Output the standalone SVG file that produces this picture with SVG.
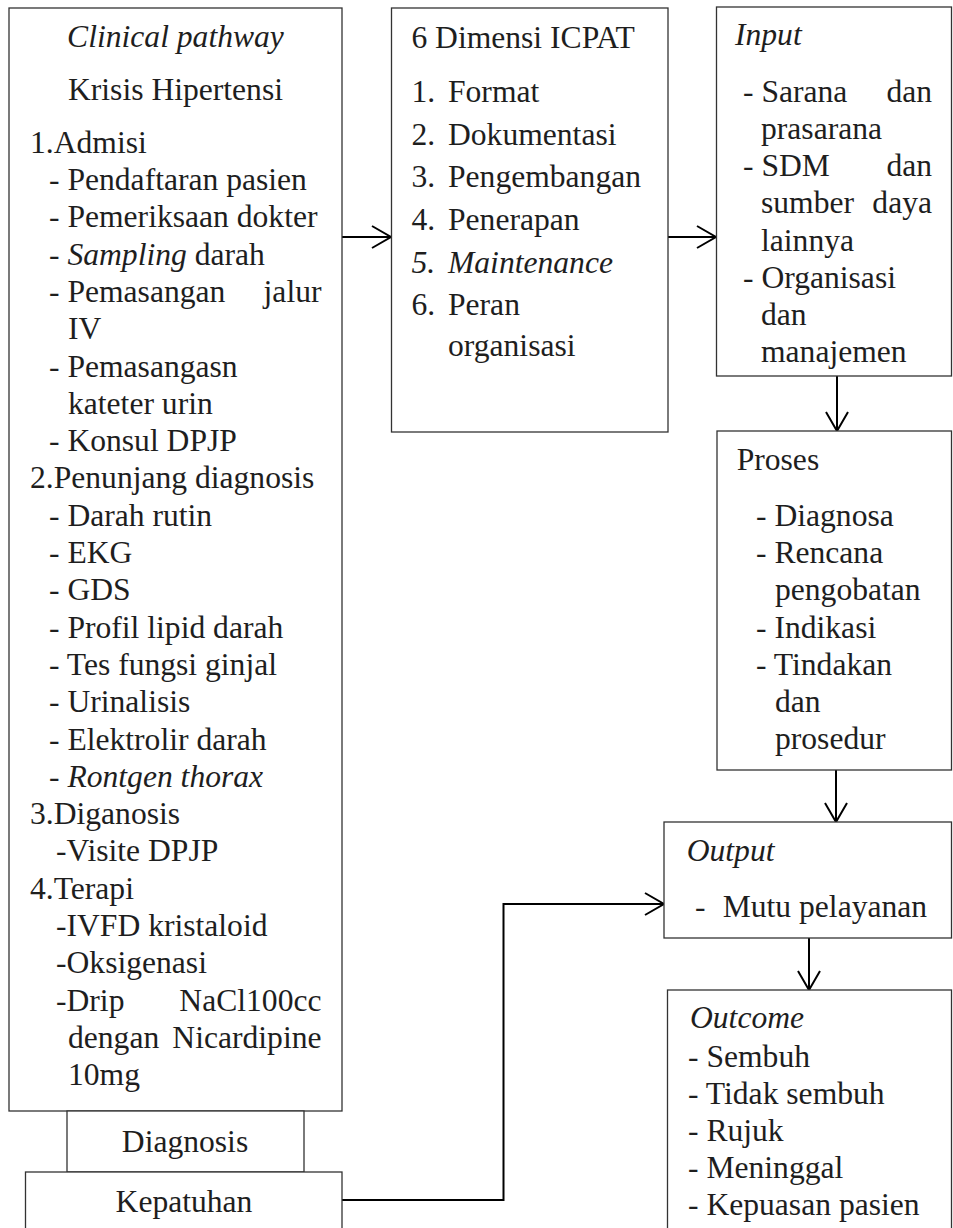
<svg xmlns="http://www.w3.org/2000/svg" width="953" height="1228" viewBox="0 0 953 1228">
<style>
.t { font-size: 31.6px; fill: #1e1e1e; }
.i { font-style: italic; }
.m { text-anchor: middle; }
.e { text-anchor: end; }
.box { fill: #ffffff; stroke: #333333; stroke-width: 1.3; }
.conn { fill: none; stroke: #000000; stroke-width: 2; }
</style>
<defs>
<marker id="arr" markerUnits="userSpaceOnUse" markerWidth="24" markerHeight="26" viewBox="0 0 24 26" refX="22" refY="13" orient="auto">
<path d="M3,2 L22,13 L3,24" fill="none" stroke="#000" stroke-width="2"/>
</marker>
</defs>
<rect width="953" height="1228" fill="#ffffff"/>

<g id="connectors">
<line class="conn" x1="342" y1="237" x2="391" y2="237" marker-end="url(#arr)"/>
<line class="conn" x1="668" y1="237" x2="716" y2="237" marker-end="url(#arr)"/>
<line class="conn" x1="837" y1="376" x2="837" y2="431" marker-end="url(#arr)"/>
<line class="conn" x1="836" y1="770" x2="836" y2="822" marker-end="url(#arr)"/>
<line class="conn" x1="809" y1="938" x2="809" y2="990" marker-end="url(#arr)"/>
<polyline class="conn" points="342,1200 503.5,1200 503.5,904 664,904" marker-end="url(#arr)"/>
</g>

<g id="clinical-pathway">
<rect class="box" x="9" y="8" width="333" height="1103"/>
<text font-family="'Liberation Serif', serif" class="t i m" x="175.5" y="47">Clinical pathway</text>
<text font-family="'Liberation Serif', serif" class="t m" x="175.5" y="100">Krisis Hipertensi</text>
<text font-family="'Liberation Serif', serif" class="t" x="30" y="152.7">1.Admisi</text>
<text font-family="'Liberation Serif', serif" class="t" x="49" y="190">- Pendaftaran pasien</text>
<text font-family="'Liberation Serif', serif" class="t" x="49" y="227.3">- Pemeriksaan dokter</text>
<text font-family="'Liberation Serif', serif" class="t" x="49" y="264.6">- <tspan class="i">Sampling</tspan> darah</text>
<text font-family="'Liberation Serif', serif" class="t" x="49" y="301.9">- Pemasangan</text>
<text font-family="'Liberation Serif', serif" class="t e" x="321.5" y="301.9">jalur</text>
<text font-family="'Liberation Serif', serif" class="t" x="68" y="339.2">IV</text>
<text font-family="'Liberation Serif', serif" class="t" x="49" y="376.5">- Pemasangasn</text>
<text font-family="'Liberation Serif', serif" class="t" x="68" y="413.8">kateter urin</text>
<text font-family="'Liberation Serif', serif" class="t" x="49" y="451.1">- Konsul DPJP</text>
<text font-family="'Liberation Serif', serif" class="t" x="30" y="488.4">2.Penunjang diagnosis</text>
<text font-family="'Liberation Serif', serif" class="t" x="49" y="525.7">- Darah rutin</text>
<text font-family="'Liberation Serif', serif" class="t" x="49" y="563">- EKG</text>
<text font-family="'Liberation Serif', serif" class="t" x="49" y="600.3">- GDS</text>
<text font-family="'Liberation Serif', serif" class="t" x="49" y="637.6">- Profil lipid darah</text>
<text font-family="'Liberation Serif', serif" class="t" x="49" y="674.9">- Tes fungsi ginjal</text>
<text font-family="'Liberation Serif', serif" class="t" x="49" y="712.2">- Urinalisis</text>
<text font-family="'Liberation Serif', serif" class="t" x="49" y="749.5">- Elektrolir darah</text>
<text font-family="'Liberation Serif', serif" class="t" x="49" y="786.8">- <tspan class="i">Rontgen thorax</tspan></text>
<text font-family="'Liberation Serif', serif" class="t" x="30" y="824.1">3.Diganosis</text>
<text font-family="'Liberation Serif', serif" class="t" x="56" y="861.4">-Visite DPJP</text>
<text font-family="'Liberation Serif', serif" class="t" x="30" y="898.7">4.Terapi</text>
<text font-family="'Liberation Serif', serif" class="t" x="56" y="936">-IVFD kristaloid</text>
<text font-family="'Liberation Serif', serif" class="t" x="56" y="973.3">-Oksigenasi</text>
<text font-family="'Liberation Serif', serif" class="t" x="56" y="1010.6">-Drip</text>
<text font-family="'Liberation Serif', serif" class="t e" x="321.5" y="1010.6">NaCl100cc</text>
<text font-family="'Liberation Serif', serif" class="t" x="68" y="1047.9">dengan</text>
<text font-family="'Liberation Serif', serif" class="t e" x="321.5" y="1047.9">Nicardipine</text>
<text font-family="'Liberation Serif', serif" class="t" x="68" y="1085.2">10mg</text>
</g>

<g id="diagnosis">
<rect class="box" x="67" y="1111" width="237" height="61"/>
<text font-family="'Liberation Serif', serif" class="t m" x="185" y="1151.7">Diagnosis</text>
</g>

<g id="kepatuhan">
<rect class="box" x="25.5" y="1172" width="316.5" height="70"/>
<text font-family="'Liberation Serif', serif" class="t m" x="184" y="1211.7">Kepatuhan</text>
</g>

<g id="icpat">
<rect class="box" x="391.5" y="8" width="276.5" height="424"/>
<text font-family="'Liberation Serif', serif" class="t" x="411.4" y="48.3">6 Dimensi ICPAT</text>
<text font-family="'Liberation Serif', serif" class="t" x="411.4" y="101.7">1.</text><text font-family="'Liberation Serif', serif" class="t" x="448" y="101.7">Format</text>
<text font-family="'Liberation Serif', serif" class="t" x="411.4" y="144.5">2.</text><text font-family="'Liberation Serif', serif" class="t" x="448" y="144.5">Dokumentasi</text>
<text font-family="'Liberation Serif', serif" class="t" x="411.4" y="187.2">3.</text><text font-family="'Liberation Serif', serif" class="t" x="448" y="187.2">Pengembangan</text>
<text font-family="'Liberation Serif', serif" class="t" x="411.4" y="229.8">4.</text><text font-family="'Liberation Serif', serif" class="t" x="448" y="229.8">Penerapan</text>
<text font-family="'Liberation Serif', serif" class="t i" x="411.4" y="272.5">5.</text><text font-family="'Liberation Serif', serif" class="t i" x="448" y="272.5">Maintenance</text>
<text font-family="'Liberation Serif', serif" class="t" x="411.4" y="315">6.</text><text font-family="'Liberation Serif', serif" class="t" x="448" y="315">Peran</text>
<text font-family="'Liberation Serif', serif" class="t" x="448" y="356">organisasi</text>
</g>

<g id="input">
<rect class="box" x="716.5" y="7" width="235" height="369"/>
<text font-family="'Liberation Serif', serif" class="t i" x="735" y="45">Input</text>
<text font-family="'Liberation Serif', serif" class="t" x="743" y="101.7">- Sarana</text>
<text font-family="'Liberation Serif', serif" class="t e" x="932" y="101.7">dan</text>
<text font-family="'Liberation Serif', serif" class="t" x="761" y="138.9">prasarana</text>
<text font-family="'Liberation Serif', serif" class="t" x="743" y="176.1">- SDM</text>
<text font-family="'Liberation Serif', serif" class="t e" x="932" y="176.1">dan</text>
<text font-family="'Liberation Serif', serif" class="t" x="761" y="213.3">sumber</text>
<text font-family="'Liberation Serif', serif" class="t e" x="932" y="213.3">daya</text>
<text font-family="'Liberation Serif', serif" class="t" x="761" y="250.5">lainnya</text>
<text font-family="'Liberation Serif', serif" class="t" x="743" y="287.7">- Organisasi</text>
<text font-family="'Liberation Serif', serif" class="t" x="761" y="324.9">dan</text>
<text font-family="'Liberation Serif', serif" class="t" x="761" y="362.1">manajemen</text>
</g>

<g id="proses">
<rect class="box" x="717" y="431" width="234.5" height="339"/>
<text font-family="'Liberation Serif', serif" class="t" x="736.7" y="470">Proses</text>
<text font-family="'Liberation Serif', serif" class="t" x="756" y="526">- Diagnosa</text>
<text font-family="'Liberation Serif', serif" class="t" x="756" y="563.2">- Rencana</text>
<text font-family="'Liberation Serif', serif" class="t" x="775" y="600.4">pengobatan</text>
<text font-family="'Liberation Serif', serif" class="t" x="756" y="637.6">- Indikasi</text>
<text font-family="'Liberation Serif', serif" class="t" x="756" y="674.8">- Tindakan</text>
<text font-family="'Liberation Serif', serif" class="t" x="775" y="712">dan</text>
<text font-family="'Liberation Serif', serif" class="t" x="775" y="749.2">prosedur</text>
</g>

<g id="output">
<rect class="box" x="664" y="822" width="287.5" height="116"/>
<text font-family="'Liberation Serif', serif" class="t i" x="686.7" y="860.7">Output</text>
<text font-family="'Liberation Serif', serif" class="t" x="695" y="916.7">-</text>
<text font-family="'Liberation Serif', serif" class="t" x="722.7" y="916.7">Mutu pelayanan</text>
</g>

<g id="outcome">
<rect class="box" x="667.5" y="990" width="284" height="250"/>
<text font-family="'Liberation Serif', serif" class="t i" x="690" y="1028.3">Outcome</text>
<text font-family="'Liberation Serif', serif" class="t" x="688" y="1066.7">- Sembuh</text>
<text font-family="'Liberation Serif', serif" class="t" x="688" y="1103.6">- Tidak sembuh</text>
<text font-family="'Liberation Serif', serif" class="t" x="688" y="1140.8">- Rujuk</text>
<text font-family="'Liberation Serif', serif" class="t" x="688" y="1178">- Meninggal</text>
<text font-family="'Liberation Serif', serif" class="t" x="688" y="1215.2">- Kepuasan pasien</text>
</g>
</svg>
